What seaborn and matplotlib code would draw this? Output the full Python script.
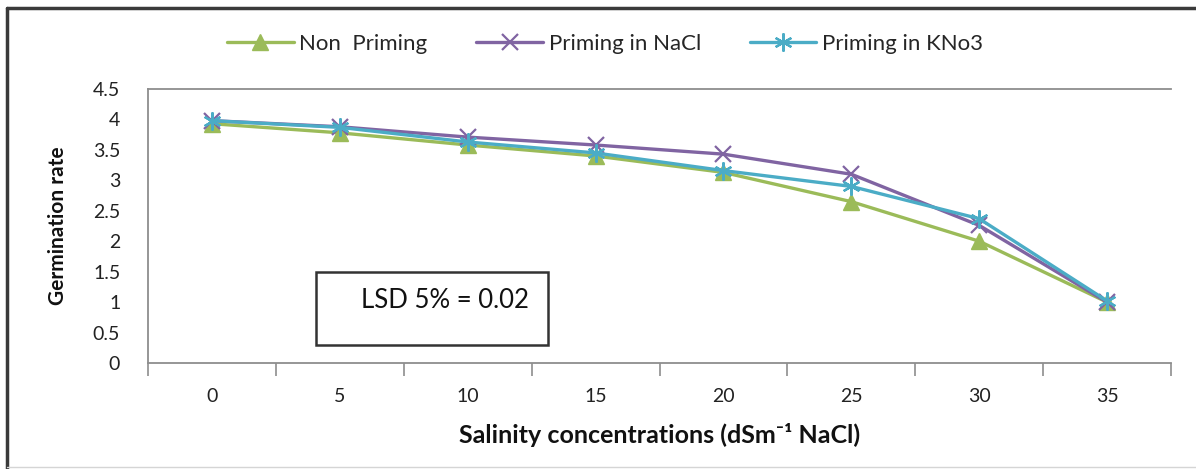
import matplotlib
matplotlib.use("Agg")
import matplotlib.pyplot as plt
from matplotlib.lines import Line2D
from matplotlib.patches import Rectangle
from matplotlib.ticker import FixedLocator
import seaborn as sns

# Salinity levels (dS/m NaCl) and germination rates per treatment
salinity = [0, 5, 10, 15, 20, 25, 30, 35]
non_priming = [3.93, 3.78, 3.58, 3.40, 3.13, 2.65, 2.00, 1.00]
priming_nacl = [3.98, 3.88, 3.71, 3.58, 3.43, 3.10, 2.26, 1.00]
priming_kno3 = [3.98, 3.87, 3.63, 3.45, 3.16, 2.90, 2.37, 1.02]

series_names = ["Non  Priming", "Priming in NaCl", "Priming in KNo3"]
y_ticks = [0, 0.5, 1, 1.5, 2, 2.5, 3, 3.5, 4, 4.5]
grid_levels = [0, 1, 1.5, 2.5, 3, 4.5]
lsd_label = "LSD 5% = 0.02"

sns.set_theme(style="white")
plt.rcParams["font.family"] = ["Lato", "DejaVu Sans"]

fig = plt.figure(figsize=(11.96, 4.69), dpi=100)
ax = fig.add_axes([148 / 1196, 1 - 363 / 469, 1023 / 1196, 274 / 469])

styles = [
    dict(color="#9BBB59", marker="^", markersize=11, mec="#9BBB59", mew=1.0),
    dict(color="#8064A2", marker="x", markersize=11, mec="#8064A2", mew=1.6),
    dict(color="#4BACC6", marker=(6, 2, 0), markersize=13, mec="#4BACC6", mew=1.6),
]
for name, values, st in zip(series_names, [non_priming, priming_nacl, priming_kno3], styles):
    sns.lineplot(x=salinity, y=values, ax=ax, lw=2.4, label=name, zorder=4, **st)

handles, labels = ax.get_legend_handles_labels()
ax.get_legend().remove()

ax.set_xlim(-2.5, 37.5)
ax.set_ylim(0, 4.5)

# x axis: labels at categories, tick marks between categories
ax.set_xticks(salinity)
ax.set_xticklabels([str(s) for s in salinity])
ax.xaxis.set_minor_locator(FixedLocator([s - 2.5 for s in salinity] + [37.5]))
ax.tick_params(axis="x", which="major", length=0, pad=18, labelsize=14, labelcolor="#222222")
ax.tick_params(axis="x", which="minor", length=9, width=1.2, color="#8e8e8e", direction="out", bottom=True)

# y axis
ax.set_yticks(y_ticks)
ax.set_yticklabels([f"{v:g}" for v in y_ticks])
ax.yaxis.set_minor_locator(FixedLocator(grid_levels))
ax.tick_params(axis="y", which="major", length=0, pad=20, labelsize=14, labelcolor="#222222")
ax.tick_params(axis="y", which="minor", length=9, width=1.2, color="#8e8e8e", direction="out", left=True)
ax.grid(False)
ax.grid(True, axis="y", which="minor", color="#8e8e8e", lw=1.3)

for side in ["left", "bottom", "top"]:
    ax.spines[side].set_visible(True)
    ax.spines[side].set_color("#8e8e8e")
    ax.spines[side].set_linewidth(1.3)
ax.spines["right"].set_visible(False)

ax.set_xlabel("Salinity concentrations (dSm\u207b\u00b9 NaCl)", fontsize=18,
              fontweight="bold", labelpad=13, color="#111111")
ax.set_ylabel("Germination rate", fontsize=15, fontweight="bold",
              labelpad=18, color="#111111")

# LSD annotation box
ax.add_patch(Rectangle((168 / 1023, 18 / 274), 232 / 1023, 73 / 274, transform=ax.transAxes,
                       facecolor="white", edgecolor="#333333", lw=1.8, zorder=3))
ax.text(297 / 1023, 62 / 274, lsd_label, transform=ax.transAxes, fontsize=18.5,
        ha="center", va="center", color="#111111", zorder=5)

fig.legend(handles, labels, loc="center", bbox_to_anchor=(605 / 1196, 1 - 44 / 469), ncol=3,
           frameon=False, fontsize=16, handlelength=3.0, handletextpad=0.25, columnspacing=2.2)

# chart frame
fig.add_artist(Line2D([7 / 1196, 1], [1 - 8 / 469, 1 - 8 / 469], transform=fig.transFigure,
                      color="#3a3a3a", lw=2.5))
fig.add_artist(Line2D([7 / 1196, 7 / 1196], [0, 1 - 8 / 469], transform=fig.transFigure,
                      color="#3a3a3a", lw=2.5))
fig.add_artist(Line2D([7 / 1196, 1], [2 / 469, 2 / 469], transform=fig.transFigure,
                      color="#d5d5d5", lw=1))

fig.savefig("out.png", dpi=100)
